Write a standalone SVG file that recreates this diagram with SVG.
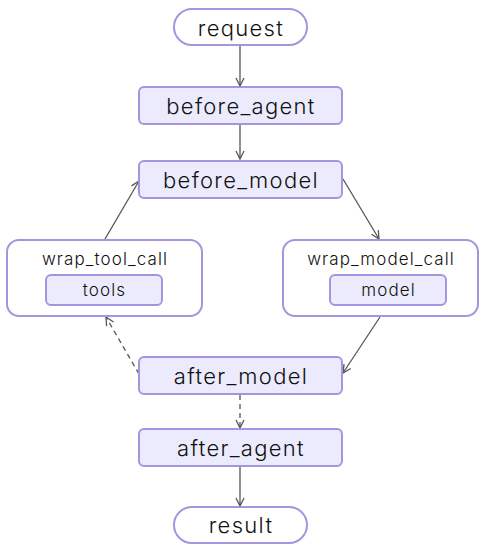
<svg xmlns="http://www.w3.org/2000/svg" width="493" height="554" viewBox="0 0 493 554">
<defs>
<marker id="arr" markerWidth="10" markerHeight="10" refX="9" refY="5" orient="auto" markerUnits="userSpaceOnUse">
<path d="M1,1 L9,5 L1,9" fill="none" stroke="#555" stroke-width="1.3"/>
</marker>
<style>
.n{fill:#ecebfd;stroke:#a495dc;stroke-width:2}
.g{fill:#ffffff;stroke:#a495dc;stroke-width:2}
.t{font-family:Inter,"Liberation Sans",sans-serif;font-size:22px;font-weight:300;letter-spacing:1.3px;fill:#111;text-anchor:middle;dominant-baseline:central}
.s{font-family:Inter,"Liberation Sans",sans-serif;font-size:17px;font-weight:300;letter-spacing:1.1px;fill:#111;text-anchor:middle;dominant-baseline:central}
.c{fill:none;stroke:#555;stroke-width:1.3;marker-end:url(#arr)}
.d{stroke-dasharray:5 4}
</style>
</defs>
<rect width="493" height="554" fill="#fff"/>
<g id="connectors">
<line class="c" x1="240" y1="46" x2="240" y2="86"/>
<line class="c" x1="240" y1="125" x2="240" y2="159"/>
<line class="c" x1="343" y1="179" x2="379" y2="239"/>
<line class="c" x1="380" y1="317" x2="343" y2="373"/>
<line class="c d" x1="139" y1="374" x2="106" y2="317"/>
<line class="c" x1="105" y1="239" x2="139" y2="181"/>
<line class="c d" x1="240" y1="395" x2="240" y2="428"/>
<line class="c" x1="240" y1="467" x2="240" y2="506"/>
</g>
<g id="request"><rect class="g" x="174" y="9" width="133" height="36" rx="18"/><text class="t" x="241" y="28">request</text></g>
<g id="before_agent"><rect class="n" x="139" y="87" width="203" height="37" rx="5"/><text class="t" x="241" y="106">before_agent</text></g>
<g id="before_model"><rect class="n" x="139" y="161" width="203" height="37" rx="5"/><text class="t" x="241" y="180">before_model</text></g>
<g id="wrap_tool_call"><rect class="g" x="7" y="240" width="195" height="76" rx="12"/><text class="s" x="105" y="259">wrap_tool_call</text>
<g id="tools"><rect class="n" x="46" y="275" width="116" height="30" rx="5"/><text class="s" x="104.5" y="290">tools</text></g></g>
<g id="wrap_model_call"><rect class="g" x="283" y="240" width="195" height="76" rx="12"/><text class="s" x="381" y="259">wrap_model_call</text>
<g id="model"><rect class="n" x="330" y="275" width="116" height="30" rx="5"/><text class="s" x="388.5" y="290">model</text></g></g>
<g id="after_model"><rect class="n" x="139" y="357" width="203" height="37" rx="5"/><text class="t" x="241" y="376">after_model</text></g>
<g id="after_agent"><rect class="n" x="139" y="429" width="203" height="37" rx="5"/><text class="t" x="241" y="448">after_agent</text></g>
<g id="result"><rect class="g" x="174" y="507" width="133" height="36" rx="18"/><text class="t" x="241" y="525">result</text></g>
</svg>
